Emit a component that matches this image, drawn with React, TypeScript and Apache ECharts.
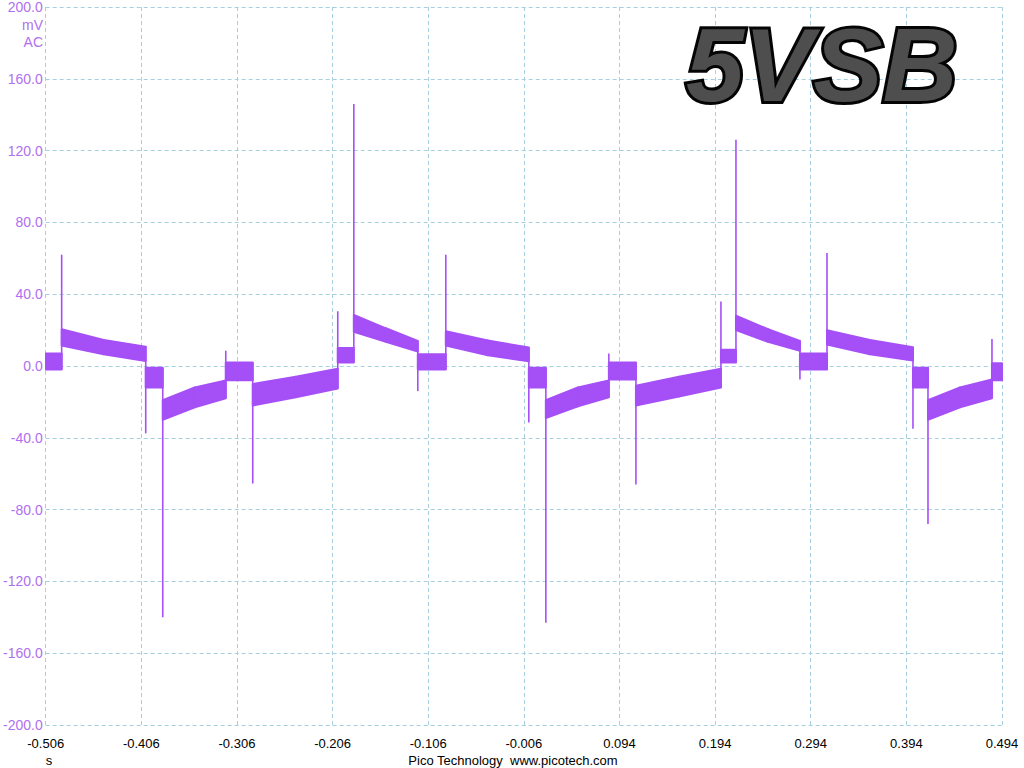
import React, { useEffect, useRef } from "react";
import * as echarts from "echarts";

// ---- data ----
// envelope knots of the noisy band: time (s), bottom (mV), top (mV)
const bandTime = [
  -0.506, -0.4893,
  -0.4893, -0.4454, -0.4014,
  -0.4014, -0.3836,
  -0.3836, -0.3501, -0.3177,
  -0.3177, -0.2895,
  -0.2895, -0.2445, -0.2006,
  -0.2006, -0.1838,
  -0.1838, -0.1503, -0.1169,
  -0.1169, -0.0876,
  -0.0876, -0.0437, -0.0008,
  -0.0008, 0.017,
  0.017, 0.0505, 0.0829,
  0.0829, 0.1112,
  0.1112, 0.1561, 0.2001,
  0.2001, 0.2158,
  0.2158, 0.2493, 0.2827,
  0.2827, 0.311,
  0.311, 0.3559, 0.4009,
  0.4009, 0.4166,
  0.4166, 0.4501, 0.4835,
  0.4835, 0.494,
];
const bandBottom = [
  -2, -2,
  11.4, 6.5, 2.8,
  -12, -12,
  -30, -23, -18,
  -8, -8,
  -22, -17.4, -12.6,
  2, 2,
  19, 13.5, 8,
  -2, -2,
  11.4, 6, 2.7,
  -12, -12,
  -29, -22.5, -17.5,
  -7.5, -7.5,
  -22, -17, -12,
  2, 2,
  20, 13.5, 8.5,
  -2, -2,
  12, 6.5, 3,
  -12, -12,
  -30, -23, -18,
  -8, -8,
];
const bandTop = [
  7, 7,
  20.5, 14.5, 10.8,
  -1, -1,
  -19, -12, -8,
  2, 2,
  -10, -6, -1.5,
  10, 10,
  28.5, 21, 14,
  6.5, 6.5,
  19.4, 14.2, 10.3,
  -1, -1,
  -19, -12, -8,
  2, 2,
  -11, -6, -1.5,
  9, 9,
  28, 20.5, 14,
  7, 7,
  20, 14.5, 10.5,
  -1, -1,
  -19, -12, -7.5,
  1.5, 1.5,
];
// transient spikes at each switching edge: time (s), base (mV), tip (mV)
const spikeTime = [
  -0.4893, -0.4014, -0.3836, -0.3177, -0.2895, -0.2006, -0.1838, -0.1169, -0.0876, -0.0008,
  0.017, 0.0829, 0.1112, 0.2001, 0.2158, 0.2827, 0.311, 0.4009, 0.4166, 0.4835,
];
const spikeBase = [-2, 11, -1, -18, 2, -12.5, 2, 14, -2, 10.5, -1, -17.5, 2, -12, 2, 14, -2, 10.5, -1, -18];
const spikeTip = [62, -37.5, -140, 8.5, -65.5, 30.5, 146, -14, 62, -31.5, -143, 7, -66, 36, 126, -7.5, 63, -35, -88, 15];

// axes
const xMin = -0.506;
const xMax = 0.494;
const xStep = 0.1;
const yMin = -200;
const yMax = 200;
const yStep = 40;

const TRACE = "#a54ff7";
const LABEL_PURPLE = "#b070f0";
const GRID = "#a6cfdf";

export default function App() {
  const ref = useRef<HTMLDivElement>(null);

  useEffect(() => {
    if (!ref.current) return;
    const chart = echarts.init(ref.current, null, { renderer: "svg" });

    const bandData: number[][] = [];
    for (let i = 0; i < bandTime.length - 1; i++) {
      if (bandTime[i + 1] === bandTime[i]) continue;
      bandData.push([bandTime[i], bandBottom[i], bandTop[i], bandTime[i + 1], bandBottom[i + 1], bandTop[i + 1]]);
    }
    const spikeData = spikeTime.map((t, i) => [t, spikeBase[i], spikeTip[i]]);

    const font = "'Liberation Sans', Arial, sans-serif";

    chart.setOption({
      animation: false,
      backgroundColor: "#ffffff",
      grid: { left: 45, top: 7, right: 22, bottom: 43, containLabel: false },
      xAxis: {
        type: "value",
        min: xMin,
        max: xMax,
        interval: xStep,
        axisLine: { show: false },
        axisTick: { show: false },
        axisLabel: {
          color: "#000",
          fontSize: 13,
          fontFamily: font,
          margin: 12,
          formatter: (v: number) => v.toFixed(3),
        },
        splitLine: { show: true, lineStyle: { color: GRID, type: [4, 3], width: 1 } },
      },
      yAxis: {
        type: "value",
        min: yMin,
        max: yMax,
        interval: yStep,
        axisLine: { show: false },
        axisTick: { show: false },
        axisLabel: {
          color: LABEL_PURPLE,
          fontSize: 14,
          fontFamily: font,
          margin: 3,
          formatter: (v: number) => v.toFixed(1),
        },
        splitLine: { show: true, lineStyle: { color: GRID, type: [4, 3], width: 1 } },
      },
      series: [
        {
          type: "custom",
          data: bandData,
          clip: true,
          renderItem: (params: any, api: any) => {
            const p1 = api.coord([api.value(0), api.value(1)]);
            const p2 = api.coord([api.value(0), api.value(2)]);
            const p3 = api.coord([api.value(3), api.value(5)]);
            const p4 = api.coord([api.value(3), api.value(4)]);
            return {
              type: "polygon",
              shape: { points: [p1, p2, p3, p4] },
              style: { fill: TRACE, stroke: TRACE, lineWidth: 2, lineJoin: "round" },
            };
          },
        },
        {
          type: "custom",
          data: spikeData,
          clip: true,
          renderItem: (params: any, api: any) => {
            const a = api.coord([api.value(0), api.value(1)]);
            const b = api.coord([api.value(0), api.value(2)]);
            return {
              type: "line",
              shape: { x1: a[0], y1: a[1], x2: b[0], y2: b[1] },
              style: { stroke: TRACE, lineWidth: 1.6 },
            };
          },
        },
      ],
      graphic: [
        {
          type: "text",
          x: 43,
          y: 25,
          style: { text: "mV", fill: LABEL_PURPLE, font: `14px ${font}`, align: "right", verticalAlign: "middle" },
        },
        {
          type: "text",
          x: 43,
          y: 42,
          style: { text: "AC", fill: LABEL_PURPLE, font: `14px ${font}`, align: "right", verticalAlign: "middle" },
        },
        {
          type: "text",
          x: 49,
          y: 760,
          style: { text: "s", fill: "#000", font: `13px ${font}`, align: "center", verticalAlign: "middle" },
        },
        {
          type: "text",
          x: 513,
          y: 760,
          style: {
            text: "Pico Technology  www.picotech.com",
            fill: "#000",
            font: `13px ${font}`,
            align: "center",
            verticalAlign: "middle",
          },
        },
        {
          type: "text",
          x: 686,
          y: 65,
          z: 100,
          style: {
            text: "5VSB",
            font: `italic bold 104px ${font}`,
            align: "left",
            verticalAlign: "middle",
            fill: "#4e4e4e",
            stroke: "#050505",
            lineWidth: 6,
            lineJoin: "round",
          },
        },
      ],
    });

    return () => chart.dispose();
  }, []);

  return (
    <div
      ref={ref}
      style={{ position: "fixed", left: 0, top: 0, width: 1024, height: 768, background: "#fff" }}
    />
  );
}
